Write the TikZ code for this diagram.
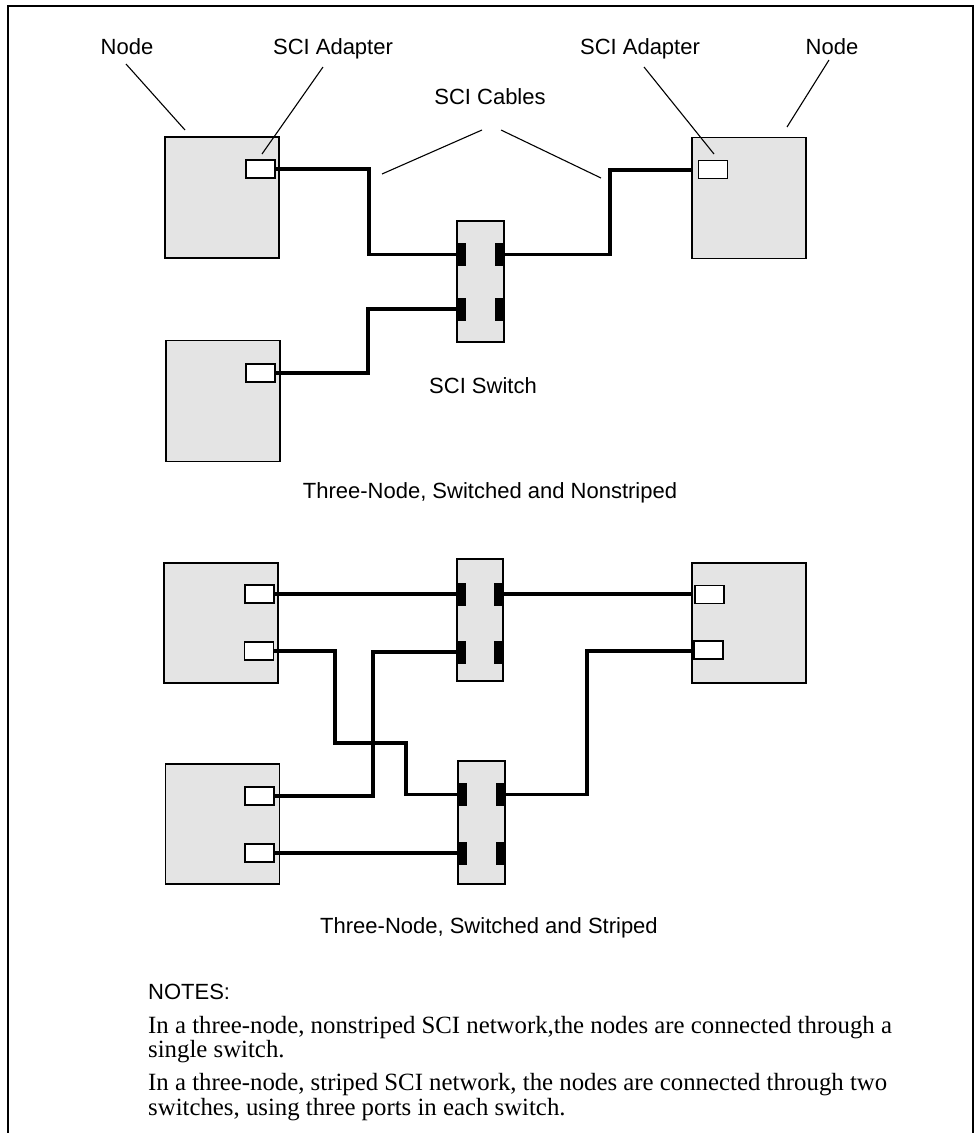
\documentclass[tikz,border=0pt]{standalone}
\usepackage{fontspec}
\setmainfont{Liberation Serif}
\setsansfont{Liberation Sans}
\definecolor{boxgray}{HTML}{E4E4E4}
\tikzset{
  nodebox/.style={draw=black, fill=boxgray, line width=1.5pt, inner sep=0pt, outer sep=0pt, minimum width=114pt, minimum height=121pt},
  adapter/.style={draw=black, fill=white, line width=1.4pt, inner sep=0pt, outer sep=0pt, minimum width=29pt, minimum height=18pt},
  switchbox/.style={draw=black, fill=boxgray, line width=1.5pt, inner sep=0pt, outer sep=0pt, minimum width=47pt, minimum height=121pt},
  port/.style={fill=black, draw=none, inner sep=0pt, outer sep=0pt, minimum width=9pt, minimum height=23pt},
  cable/.style={line width=3.2pt, line join=miter},
  leader/.style={line width=1.1pt},
  lbl/.style={font=\sffamily\fontsize{22}{26}\selectfont, inner sep=0pt, anchor=base},
  note/.style={font=\rmfamily\fontsize{24.8}{28}\selectfont, inner sep=0pt, anchor=base west},
}
\begin{document}
\begin{tikzpicture}[x=1pt,y=-1pt]
\useasboundingbox (0,0) rectangle (977,1133);
% frame (open at bottom)
\draw[line width=1.6pt] (8,1140) -- (8,6) -- (973,6) -- (973,1140);

% ===== Top diagram =====
\node[nodebox] (n1) at (222,197.5) {};
\node[adapter] (a1) at (260.5,169) {};
\node[nodebox] (n2) at (749,198) {};
\node[adapter] (a2) at (713,169.5) {};
\node[nodebox] (n3) at (223,401) {};
\node[adapter] (a3) at (260.5,373) {};
\node[switchbox] (sw1) at (480.5,281.5) {};
\node[port] (sw1l1) at (461.5,254.5) {};
\node[port] (sw1l2) at (461.5,309) {};
\node[port] (sw1r1) at (499.5,254.5) {};
\node[port] (sw1r2) at (499.5,309) {};

\draw[cable] (a1.east) -- (369,169) -- (369,254.5) -- (sw1l1.west);
\draw[cable] (sw1r1.east) -- (610,254.5) -- (610,170) -- (n2.west |- 0,170);
\draw[cable] (a3.east) -- (368,373) -- (368,309) -- (sw1l2.west);

% labels and leaders
\node[lbl] (lnode1) at (127,54) {Node};
\node[lbl] (lad1) at (333,54) {SCI Adapter};
\node[lbl] (lcab) at (490,104) {SCI Cables};
\node[lbl] (lad2) at (640,54) {SCI Adapter};
\node[lbl] (lnode2) at (832,54) {Node};
\node[lbl] (lsw) at (483,393) {SCI Switch};
\node[lbl] (cap1) at (490,498) {Three-Node, Switched and Nonstriped};

\coordinate (t1) at (185,130);
\coordinate (t2) at (262,154);
\coordinate (t3) at (382,174);
\coordinate (t4) at (601,178);
\coordinate (t5) at (714,154);
\coordinate (t6) at (787,127);
\draw[leader] (126,64) -- (t1);
\draw[leader] (323,67) -- (t2);
\draw[leader] (482,130) -- (t3);
\draw[leader] (501,130) -- (t4);
\draw[leader] (644,67) -- (t5);
\draw[leader] (829,60) -- (t6);

% ===== Bottom diagram =====
\node[nodebox, minimum height=120pt] (nA) at (221,623) {};
\node[adapter] (aA1) at (259.5,594) {};
\node[adapter] (aA2) at (259,651) {};
\node[nodebox, minimum height=120pt] (nB) at (222.5,824) {};
\node[adapter] (aB1) at (259.5,796) {};
\node[adapter] (aB2) at (259.5,853) {};
\node[nodebox, minimum height=120pt] (nC) at (749,623) {};
\node[adapter] (aC1) at (709.5,594.5) {};
\node[adapter] (aC2) at (708.5,650) {};

\node[switchbox, minimum width=46pt, minimum height=122pt] (sw2) at (480,620) {};
\node[port] (sw2l1) at (461.5,594) {};
\node[port] (sw2l2) at (461.5,652) {};
\node[port] (sw2r1) at (498.5,594) {};
\node[port] (sw2r2) at (498.5,652) {};

\node[switchbox, minimum height=123pt] (sw3) at (481.5,822.5) {};
\node[port] (sw3l1) at (462.5,794.5) {};
\node[port] (sw3l2) at (462.5,853) {};
\node[port] (sw3r1) at (500.5,794.5) {};
\node[port] (sw3r2) at (500.5,853) {};

\draw[cable] (aA1.east) -- (sw2l1.west);
\draw[cable] (sw2r1.east) -- (nC.west |- 0,594);
\draw[cable] (aA2.east) -- (335,651) -- (335,743) -- (406,743) -- (406,794.5) -- (sw3l1.west);
\draw[cable] (aB1.east) -- (373,796) -- (373,652) -- (sw2l2.west);
\draw[cable] (aB2.east) -- (sw3l2.west);
\draw[cable] (sw3r1.east) -- (587,794.5) -- (587,651) -- (nC.west |- 0,651);

\node[lbl] (cap2) at (489,933) {Three-Node, Switched and Striped};

% ===== Notes =====
\node[lbl, anchor=base west] (notes) at (148,999) {NOTES:};
\node[note] (n1a) at (148,1033) {In a three-node, nonstriped SCI network,the nodes are connected through a};
\node[note] (n1b) at (148,1057) {single switch.};
\node[note] (n2a) at (148,1090) {In a three-node, striped SCI network, the nodes are connected through two};
\node[note] (n2b) at (148,1115) {switches, using three ports in each switch.};
\end{tikzpicture}
\end{document}
